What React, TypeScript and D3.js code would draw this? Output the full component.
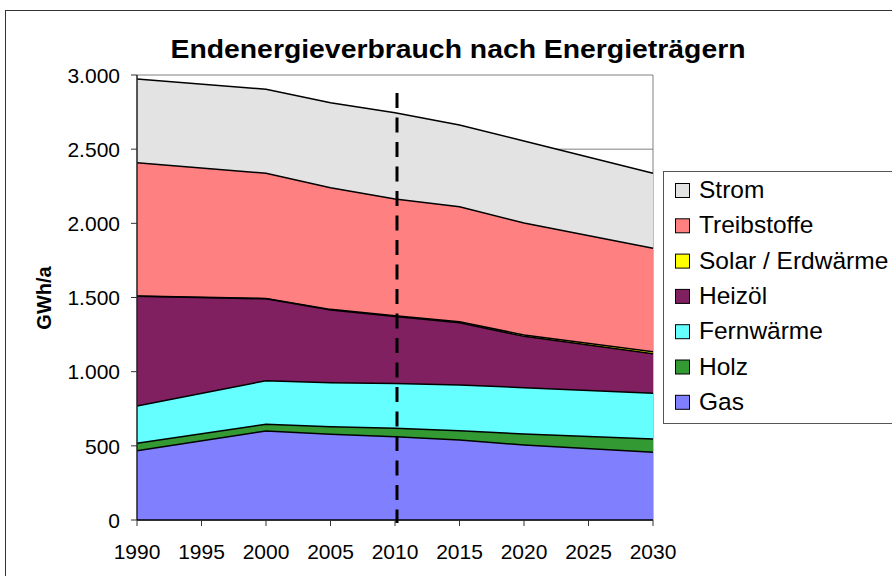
import React from "react";
import * as d3 from "d3";

const years = [1990, 2000, 2005, 2010, 2015, 2020, 2030];
const gas = [467, 600, 578, 562, 539, 506, 456];
const holz = [50, 45, 51, 56, 63, 74, 90];
const fernwaerme = [252, 294, 297, 303, 308, 312, 308];
const heizoel = [739, 552, 490, 451, 420, 346, 267];
const solar = [2, 3, 4, 5, 7, 9, 14];
const treibstoffe = [899, 843, 820, 787, 775, 755, 697];
const strom = [564, 567, 573, 582, 551, 553, 505];

const seriesNames = ["Gas", "Holz", "Fernwärme", "Heizöl", "Solar / Erdwärme", "Treibstoffe", "Strom"];
const seriesValues = [gas, holz, fernwaerme, heizoel, solar, treibstoffe, strom];
const seriesColors = ["#8080FF", "#339933", "#66FFFF", "#802060", "#FFFF00", "#FF8080", "#E3E3E3"];

const xTicks = [1990, 1995, 2000, 2005, 2010, 2015, 2020, 2025, 2030];
const yTicks = [0, 500, 1000, 1500, 2000, 2500, 3000];
const yTickLabels = ["0", "500", "1.000", "1.500", "2.000", "2.500", "3.000"];

const title = "Endenergieverbrauch nach Energieträgern";
const yLabel = "GWh/a";

export default function App() {
  const W = 892, H = 576;
  const left = 137, right = 653, top = 75, bottom = 520;
  const x = d3.scaleLinear().domain([1990, 2030]).range([left, right]);
  const y = d3.scaleLinear().domain([0, 3000]).range([bottom, top]);

  const rows = years.map((yr, i) => {
    const r: any = { year: yr };
    seriesNames.forEach((n, k) => (r[n] = seriesValues[k][i]));
    return r;
  });
  const stack = d3.stack().keys(seriesNames)(rows as any);
  const area = d3
    .area<any>()
    .x((d) => x(d.data.year))
    .y0((d) => y(d[0]))
    .y1((d) => y(d[1]));
  const topLine = d3
    .line<any>()
    .x((d) => x(d.data.year))
    .y((d) => y(d[1]));

  const font = "Liberation Sans, Arial, sans-serif";
  const legendOrder = [...seriesNames].reverse();
  const legendColors = [...seriesColors].reverse();

  return (
    <svg width={W} height={H} style={{ position: "absolute", left: 0, top: 0, background: "#fff" }} fontFamily={font}>
      <rect x={0} y={0} width={W} height={H} fill="#fff" />
      <rect x={5.5} y={10.5} width={1000} height={1000} fill="none" stroke="#333" strokeWidth={1} />
      <text x={458} y={58} textAnchor="middle" fontSize={25} fontWeight="bold" fill="#000" textLength={575} lengthAdjust="spacingAndGlyphs">
        {title}
      </text>
      {/* gridlines */}
      {yTicks.map((t) => (
        <line key={"g" + t} x1={left} x2={right} y1={y(t)} y2={y(t)} stroke="#808080" strokeWidth={1} />
      ))}
      <line x1={right} x2={right} y1={top} y2={bottom} stroke="#808080" strokeWidth={1} />
      {/* areas */}
      {stack.map((s, k) => (
        <path key={"a" + k} d={area(s as any) || ""} fill={seriesColors[k]} stroke="none" />
      ))}
      {stack.map((s, k) => (
        <path key={"l" + k} d={topLine(s as any) || ""} fill="none" stroke="#000" strokeWidth={1.5} />
      ))}
      {/* axes */}
      <line x1={left} x2={left} y1={top} y2={bottom} stroke="#222" strokeWidth={1.5} />
      <line x1={left} x2={right} y1={bottom} y2={bottom} stroke="#000" strokeWidth={1.5} />
      {yTicks.map((t, i) => (
        <g key={"yt" + t}>
          <line x1={left - 6} x2={left} y1={y(t)} y2={y(t)} stroke="#333" strokeWidth={1} />
          <text x={120} y={y(t) + 7.7} textAnchor="end" fontSize={21} fill="#000">
            {yTickLabels[i]}
          </text>
        </g>
      ))}
      {xTicks.map((t) => (
        <g key={"xt" + t}>
          <line x1={x(t)} x2={x(t)} y1={bottom} y2={bottom + 6} stroke="#333" strokeWidth={1} />
          <text x={x(t)} y={559} textAnchor="middle" fontSize={21} fill="#000">
            {t}
          </text>
        </g>
      ))}
      <text
        transform={`translate(51,298) rotate(-90)`}
        textAnchor="middle"
        fontSize={20}
        fontWeight="bold"
        fill="#000"
      >
        {yLabel}
      </text>
      {/* dashed 2010 marker */}
      <line x1={x(2010) + 2} x2={x(2010) + 2} y1={93} y2={523} stroke="#000" strokeWidth={3} strokeDasharray="15,9.5" />
      {/* legend */}
      <rect x={663.5} y={171.5} width={300} height={252} fill="#fff" stroke="#555" strokeWidth={1} />
      {legendOrder.map((n, i) => {
        const by = 198 + i * 35.3;
        return (
          <g key={"lg" + n}>
            <rect x={675.5} y={by - 14.5} width={14} height={14} fill={legendColors[i]} stroke="#000" strokeWidth={1} />
            <text x={699} y={by} fontSize={24.5} fill="#000">
              {n}
            </text>
          </g>
        );
      })}
    </svg>
  );
}
